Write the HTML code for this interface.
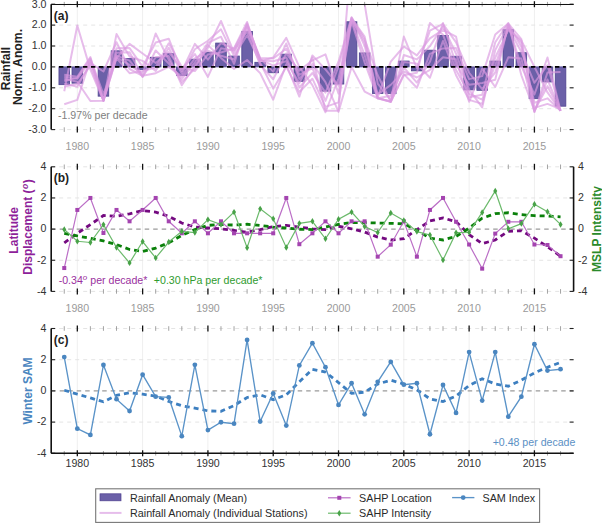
<!DOCTYPE html><html><head><meta charset="utf-8"><style>html,body{margin:0;padding:0;background:#fff;overflow:hidden}svg{display:block}text{font-family:"Liberation Sans",sans-serif}</style></head><body>
<svg width="602" height="523" viewBox="0 0 602 523">
<defs><clipPath id="ca"><rect x="51.2" y="4.2" width="522.4" height="125.4"/></clipPath></defs>
<line x1="77.32" y1="4.2" x2="77.32" y2="129.6" stroke="#efefef" stroke-width="1"/>
<line x1="142.62" y1="4.2" x2="142.62" y2="129.6" stroke="#efefef" stroke-width="1"/>
<line x1="207.92" y1="4.2" x2="207.92" y2="129.6" stroke="#efefef" stroke-width="1"/>
<line x1="273.22" y1="4.2" x2="273.22" y2="129.6" stroke="#efefef" stroke-width="1"/>
<line x1="338.52" y1="4.2" x2="338.52" y2="129.6" stroke="#efefef" stroke-width="1"/>
<line x1="403.82" y1="4.2" x2="403.82" y2="129.6" stroke="#efefef" stroke-width="1"/>
<line x1="469.12" y1="4.2" x2="469.12" y2="129.6" stroke="#efefef" stroke-width="1"/>
<line x1="534.42" y1="4.2" x2="534.42" y2="129.6" stroke="#efefef" stroke-width="1"/>
<line x1="51.2" y1="4.2" x2="573.6" y2="4.2" stroke="#e4e4e4" stroke-width="1" stroke-dasharray="4,4"/>
<line x1="51.2" y1="25.1" x2="573.6" y2="25.1" stroke="#e4e4e4" stroke-width="1" stroke-dasharray="4,4"/>
<line x1="51.2" y1="46" x2="573.6" y2="46" stroke="#e4e4e4" stroke-width="1" stroke-dasharray="4,4"/>
<line x1="51.2" y1="87.8" x2="573.6" y2="87.8" stroke="#e4e4e4" stroke-width="1" stroke-dasharray="4,4"/>
<line x1="51.2" y1="108.7" x2="573.6" y2="108.7" stroke="#e4e4e4" stroke-width="1" stroke-dasharray="4,4"/>
<line x1="51.2" y1="129.6" x2="573.6" y2="129.6" stroke="#e4e4e4" stroke-width="1" stroke-dasharray="4,4"/>
<rect x="58.96" y="66.9" width="10.6" height="17.77" fill="#6b60a8" stroke="#4f4390" stroke-width="0.8"/>
<rect x="72.02" y="66.9" width="10.6" height="16.3" fill="#6b60a8" stroke="#4f4390" stroke-width="0.8"/>
<rect x="98.14" y="66.9" width="10.6" height="29.26" fill="#6b60a8" stroke="#4f4390" stroke-width="0.8"/>
<rect x="111.2" y="50.81" width="10.6" height="16.09" fill="#6b60a8" stroke="#4f4390" stroke-width="0.8"/>
<rect x="124.26" y="58.54" width="10.6" height="8.36" fill="#6b60a8" stroke="#4f4390" stroke-width="0.8"/>
<rect x="137.32" y="66.9" width="10.6" height="2.51" fill="#6b60a8" stroke="#4f4390" stroke-width="0.8"/>
<rect x="150.38" y="57.29" width="10.6" height="9.61" fill="#6b60a8" stroke="#4f4390" stroke-width="0.8"/>
<rect x="163.44" y="53.52" width="10.6" height="13.38" fill="#6b60a8" stroke="#4f4390" stroke-width="0.8"/>
<rect x="176.5" y="66.9" width="10.6" height="8.57" fill="#6b60a8" stroke="#4f4390" stroke-width="0.8"/>
<rect x="189.56" y="59.17" width="10.6" height="7.73" fill="#6b60a8" stroke="#4f4390" stroke-width="0.8"/>
<rect x="202.62" y="52.27" width="10.6" height="14.63" fill="#6b60a8" stroke="#4f4390" stroke-width="0.8"/>
<rect x="215.68" y="43.07" width="10.6" height="23.83" fill="#6b60a8" stroke="#4f4390" stroke-width="0.8"/>
<rect x="228.74" y="56.03" width="10.6" height="10.87" fill="#6b60a8" stroke="#4f4390" stroke-width="0.8"/>
<rect x="241.8" y="31.37" width="10.6" height="35.53" fill="#6b60a8" stroke="#4f4390" stroke-width="0.8"/>
<rect x="254.86" y="62.3" width="10.6" height="4.6" fill="#6b60a8" stroke="#4f4390" stroke-width="0.8"/>
<rect x="267.92" y="66.9" width="10.6" height="5.85" fill="#6b60a8" stroke="#4f4390" stroke-width="0.8"/>
<rect x="280.98" y="54.15" width="10.6" height="12.75" fill="#6b60a8" stroke="#4f4390" stroke-width="0.8"/>
<rect x="294.04" y="66.9" width="10.6" height="14.42" fill="#6b60a8" stroke="#4f4390" stroke-width="0.8"/>
<rect x="307.1" y="66.9" width="10.6" height="0.84" fill="#6b60a8" stroke="#4f4390" stroke-width="0.8"/>
<rect x="320.16" y="66.9" width="10.6" height="24.24" fill="#6b60a8" stroke="#4f4390" stroke-width="0.8"/>
<rect x="333.22" y="66.9" width="10.6" height="17.14" fill="#6b60a8" stroke="#4f4390" stroke-width="0.8"/>
<rect x="346.28" y="21.76" width="10.6" height="45.14" fill="#6b60a8" stroke="#4f4390" stroke-width="0.8"/>
<rect x="359.34" y="52.9" width="10.6" height="14" fill="#6b60a8" stroke="#4f4390" stroke-width="0.8"/>
<rect x="372.4" y="66.9" width="10.6" height="26.54" fill="#6b60a8" stroke="#4f4390" stroke-width="0.8"/>
<rect x="385.46" y="66.9" width="10.6" height="26.75" fill="#6b60a8" stroke="#4f4390" stroke-width="0.8"/>
<rect x="398.52" y="61.05" width="10.6" height="5.85" fill="#6b60a8" stroke="#4f4390" stroke-width="0.8"/>
<rect x="411.58" y="66.9" width="10.6" height="3.97" fill="#6b60a8" stroke="#4f4390" stroke-width="0.8"/>
<rect x="424.64" y="50.18" width="10.6" height="16.72" fill="#6b60a8" stroke="#4f4390" stroke-width="0.8"/>
<rect x="437.7" y="35.55" width="10.6" height="31.35" fill="#6b60a8" stroke="#4f4390" stroke-width="0.8"/>
<rect x="450.76" y="56.24" width="10.6" height="10.66" fill="#6b60a8" stroke="#4f4390" stroke-width="0.8"/>
<rect x="463.82" y="66.9" width="10.6" height="22.99" fill="#6b60a8" stroke="#4f4390" stroke-width="0.8"/>
<rect x="476.88" y="66.9" width="10.6" height="23.41" fill="#6b60a8" stroke="#4f4390" stroke-width="0.8"/>
<rect x="489.94" y="61.05" width="10.6" height="5.85" fill="#6b60a8" stroke="#4f4390" stroke-width="0.8"/>
<rect x="503" y="29.7" width="10.6" height="37.2" fill="#6b60a8" stroke="#4f4390" stroke-width="0.8"/>
<rect x="516.06" y="52.69" width="10.6" height="14.21" fill="#6b60a8" stroke="#4f4390" stroke-width="0.8"/>
<rect x="529.12" y="66.9" width="10.6" height="31.77" fill="#6b60a8" stroke="#4f4390" stroke-width="0.8"/>
<rect x="542.18" y="66.9" width="10.6" height="15.05" fill="#6b60a8" stroke="#4f4390" stroke-width="0.8"/>
<rect x="555.24" y="66.9" width="10.6" height="39.29" fill="#6b60a8" stroke="#4f4390" stroke-width="0.8"/>
<g clip-path="url(#ca)" fill="none" stroke="#da9ae0" stroke-width="2" stroke-opacity="0.65" stroke-linejoin="round">
<polyline points="64.26,91.26 77.32,25.52 90.38,69.6 103.44,100.64 116.5,57.28 129.56,64.81 142.62,73.94 155.68,33.46 168.74,59.88 181.8,82.13 194.86,68.63 207.92,45.11 220.98,57.91 234.04,68.99 247.1,60 260.16,73.17 273.22,99.71 286.28,64.27 299.34,96.58 312.4,55.41 325.46,69.35 338.52,85.68 351.58,19.02 364.64,42.34 377.7,94.4 390.76,84.91 403.82,71.53 416.88,77.5 429.94,69.77 443,57.29 456.06,59.23 469.12,101.8 482.18,68.57 495.24,86.96 508.3,57.29 521.36,58.51 534.42,112.04 547.48,72.54 560.54,71.92"/>
<polyline points="64.26,78.71 77.32,81.75 90.38,100.97 103.44,100.75 116.5,52.75 129.56,52.27 142.62,76.72 155.68,57.29 168.74,56.06 181.8,85.29 194.86,65.71 207.92,47.69 220.98,20.92 234.04,52.75 247.1,26.36 260.16,59.41 273.22,65.56 286.28,61.14 299.34,83.14 312.4,57.5 325.46,110.7 338.52,110.79 351.58,-45.96 364.64,4.2 377.7,83.62 390.76,100.07 403.82,36.59 416.88,68.03 429.94,30.65 443,23.97 456.06,42.39 469.12,72.75 482.18,89.17 495.24,72.42 508.3,26.29 521.36,43.01 534.42,111.85 547.48,79.53 560.54,110.79"/>
<polyline points="64.26,86.87 77.32,83.76 90.38,65.61 103.44,100.76 116.5,48.36 129.56,48.09 142.62,66.59 155.68,42.54 168.74,38.69 181.8,71.26 194.86,43.91 207.92,59.65 220.98,43.04 234.04,48.93 247.1,24.67 260.16,57.91 273.22,58.51 286.28,48.69 299.34,74.78 312.4,68.06 325.46,100.88 338.52,66.51 351.58,18.33 364.64,36.6 377.7,97.07 390.76,61.68 403.82,46.51 416.88,55.41 429.94,38.36 443,29.82 456.06,36.59 469.12,97.23 482.18,94.73 495.24,42.27 508.3,23.01 521.36,75.26 534.42,110.71 547.48,86.16 560.54,110.79"/>
<polyline points="64.26,83.64 77.32,86.68 90.38,63.05 103.44,71.5 116.5,42.22 129.56,68.99 142.62,75.81 155.68,73.17 168.74,66.9 181.8,76.33 194.86,58.42 207.92,50.72 220.98,55.76 234.04,59.44 247.1,28.42 260.16,58.62 273.22,71.59 286.28,43.52 299.34,78.9 312.4,63.82 325.46,82.1 338.52,111.84 351.58,66.9 364.64,91.56 377.7,98.25 390.76,101.8 403.82,74.13 416.88,87.8 429.94,53.94 443,48.45 456.06,48.09 469.12,79.14 482.18,76.1 495.24,34.51 508.3,23.63 521.36,39.1 534.42,107.87 547.48,103.89 560.54,109.01"/>
<polyline points="64.26,104.31 77.32,99.92 90.38,59.55 103.44,99.71 116.5,55.64 129.56,60.63 142.62,76.93 155.68,50.48 168.74,63.5 181.8,79.14 194.86,62.3 207.92,42.83 220.98,36.71 234.04,63.85 247.1,23.23 260.16,60.32 273.22,61.2 286.28,57.5 299.34,87.5 312.4,73.02 325.46,92.61 338.52,61.68 351.58,17.33 364.64,39.3 377.7,75.26 390.76,101.77 403.82,75.26 416.88,72.66 429.94,23.01 443,34.71 456.06,70.01 469.12,93.83 482.18,99.62 495.24,65.02 508.3,27.74 521.36,52.06 534.42,82.77 547.48,65.2 560.54,110.79"/>
<polyline points="64.26,81 77.32,77.73 90.38,58.23 103.44,94.4 116.5,57.99 129.56,43.91 142.62,53.52 155.68,62.96 168.74,52.03 181.8,68.99 194.86,54.06 207.92,76.93 220.98,48.33 234.04,50.48 247.1,31.11 260.16,64.78 273.22,79.29 286.28,53.34 299.34,70.78 312.4,60.3 325.46,54.36 338.52,93.62 351.58,21.58 364.64,62.52 377.7,98.22 390.76,101.8 403.82,54.96 416.88,59.41 429.94,46.12 443,26.23 456.06,53.7 469.12,89.68 482.18,107.45 495.24,49.94 508.3,25.21 521.36,66.24 534.42,94.51 547.48,57.5 560.54,110.79"/>
<polyline points="64.26,74.84 77.32,76.72 90.38,57.08 103.44,100.76 116.5,58.12 129.56,73.17 142.62,70.91 155.68,67.5 168.74,43.34 181.8,66.9 194.86,71.08 207.92,54.45 220.98,52.57 234.04,48.09 247.1,21.97 260.16,61.41 273.22,57.5 286.28,37.85 299.34,66.9 312.4,85.08 325.46,112.25 338.52,78.51 351.58,19.98 364.64,55.11 377.7,97.99 390.76,101.46 403.82,61.94 416.88,63.62 429.94,77.77 443,40.92 456.06,75.26 469.12,99.89 482.18,103.86 495.24,57.52 508.3,30.07 521.36,40.42 534.42,66.9 547.48,92.43 560.54,110.74"/>
<polyline points="64.26,76.68 77.32,78.87 90.38,61.12 103.44,100.76 116.5,34.09 129.56,56.45 142.62,60.83 155.68,70.9 168.74,47.79 181.8,73.71 194.86,49.22 207.92,40.78 220.98,29.34 234.04,55.73 247.1,35.19 260.16,62.79 273.22,88.67 286.28,66.9 299.34,91.98 312.4,78.69 325.46,106.91 338.52,102.34 351.58,17.78 364.64,45.81 377.7,98.25 390.76,95.73 403.82,67.47 416.88,82.55 429.94,61.82 443,23.01 456.06,64.66 469.12,84.78 482.18,82.96 495.24,79.74 508.3,24.35 521.36,46.9 534.42,102.68 547.48,98.34 560.54,110.79"/>
</g>
<line x1="58.96" y1="66.9" x2="565.84" y2="66.9" stroke="#000" stroke-width="1.9" stroke-dasharray="4.4,3.6"/>
<line x1="64.26" y1="1.9" x2="64.26" y2="6.5" stroke="#999" stroke-width="0.9"/>
<line x1="64.26" y1="127.3" x2="64.26" y2="131.9" stroke="#999" stroke-width="0.9"/>
<line x1="77.32" y1="1.2" x2="77.32" y2="7.2" stroke="#111" stroke-width="1.3"/>
<line x1="77.32" y1="126.6" x2="77.32" y2="132.6" stroke="#111" stroke-width="1.3"/>
<line x1="90.38" y1="1.9" x2="90.38" y2="6.5" stroke="#999" stroke-width="0.9"/>
<line x1="90.38" y1="127.3" x2="90.38" y2="131.9" stroke="#999" stroke-width="0.9"/>
<line x1="103.44" y1="1.9" x2="103.44" y2="6.5" stroke="#999" stroke-width="0.9"/>
<line x1="103.44" y1="127.3" x2="103.44" y2="131.9" stroke="#999" stroke-width="0.9"/>
<line x1="116.5" y1="1.9" x2="116.5" y2="6.5" stroke="#999" stroke-width="0.9"/>
<line x1="116.5" y1="127.3" x2="116.5" y2="131.9" stroke="#999" stroke-width="0.9"/>
<line x1="129.56" y1="1.9" x2="129.56" y2="6.5" stroke="#999" stroke-width="0.9"/>
<line x1="129.56" y1="127.3" x2="129.56" y2="131.9" stroke="#999" stroke-width="0.9"/>
<line x1="142.62" y1="1.2" x2="142.62" y2="7.2" stroke="#111" stroke-width="1.3"/>
<line x1="142.62" y1="126.6" x2="142.62" y2="132.6" stroke="#111" stroke-width="1.3"/>
<line x1="155.68" y1="1.9" x2="155.68" y2="6.5" stroke="#999" stroke-width="0.9"/>
<line x1="155.68" y1="127.3" x2="155.68" y2="131.9" stroke="#999" stroke-width="0.9"/>
<line x1="168.74" y1="1.9" x2="168.74" y2="6.5" stroke="#999" stroke-width="0.9"/>
<line x1="168.74" y1="127.3" x2="168.74" y2="131.9" stroke="#999" stroke-width="0.9"/>
<line x1="181.8" y1="1.9" x2="181.8" y2="6.5" stroke="#999" stroke-width="0.9"/>
<line x1="181.8" y1="127.3" x2="181.8" y2="131.9" stroke="#999" stroke-width="0.9"/>
<line x1="194.86" y1="1.9" x2="194.86" y2="6.5" stroke="#999" stroke-width="0.9"/>
<line x1="194.86" y1="127.3" x2="194.86" y2="131.9" stroke="#999" stroke-width="0.9"/>
<line x1="207.92" y1="1.2" x2="207.92" y2="7.2" stroke="#111" stroke-width="1.3"/>
<line x1="207.92" y1="126.6" x2="207.92" y2="132.6" stroke="#111" stroke-width="1.3"/>
<line x1="220.98" y1="1.9" x2="220.98" y2="6.5" stroke="#999" stroke-width="0.9"/>
<line x1="220.98" y1="127.3" x2="220.98" y2="131.9" stroke="#999" stroke-width="0.9"/>
<line x1="234.04" y1="1.9" x2="234.04" y2="6.5" stroke="#999" stroke-width="0.9"/>
<line x1="234.04" y1="127.3" x2="234.04" y2="131.9" stroke="#999" stroke-width="0.9"/>
<line x1="247.1" y1="1.9" x2="247.1" y2="6.5" stroke="#999" stroke-width="0.9"/>
<line x1="247.1" y1="127.3" x2="247.1" y2="131.9" stroke="#999" stroke-width="0.9"/>
<line x1="260.16" y1="1.9" x2="260.16" y2="6.5" stroke="#999" stroke-width="0.9"/>
<line x1="260.16" y1="127.3" x2="260.16" y2="131.9" stroke="#999" stroke-width="0.9"/>
<line x1="273.22" y1="1.2" x2="273.22" y2="7.2" stroke="#111" stroke-width="1.3"/>
<line x1="273.22" y1="126.6" x2="273.22" y2="132.6" stroke="#111" stroke-width="1.3"/>
<line x1="286.28" y1="1.9" x2="286.28" y2="6.5" stroke="#999" stroke-width="0.9"/>
<line x1="286.28" y1="127.3" x2="286.28" y2="131.9" stroke="#999" stroke-width="0.9"/>
<line x1="299.34" y1="1.9" x2="299.34" y2="6.5" stroke="#999" stroke-width="0.9"/>
<line x1="299.34" y1="127.3" x2="299.34" y2="131.9" stroke="#999" stroke-width="0.9"/>
<line x1="312.4" y1="1.9" x2="312.4" y2="6.5" stroke="#999" stroke-width="0.9"/>
<line x1="312.4" y1="127.3" x2="312.4" y2="131.9" stroke="#999" stroke-width="0.9"/>
<line x1="325.46" y1="1.9" x2="325.46" y2="6.5" stroke="#999" stroke-width="0.9"/>
<line x1="325.46" y1="127.3" x2="325.46" y2="131.9" stroke="#999" stroke-width="0.9"/>
<line x1="338.52" y1="1.2" x2="338.52" y2="7.2" stroke="#111" stroke-width="1.3"/>
<line x1="338.52" y1="126.6" x2="338.52" y2="132.6" stroke="#111" stroke-width="1.3"/>
<line x1="351.58" y1="1.9" x2="351.58" y2="6.5" stroke="#999" stroke-width="0.9"/>
<line x1="351.58" y1="127.3" x2="351.58" y2="131.9" stroke="#999" stroke-width="0.9"/>
<line x1="364.64" y1="1.9" x2="364.64" y2="6.5" stroke="#999" stroke-width="0.9"/>
<line x1="364.64" y1="127.3" x2="364.64" y2="131.9" stroke="#999" stroke-width="0.9"/>
<line x1="377.7" y1="1.9" x2="377.7" y2="6.5" stroke="#999" stroke-width="0.9"/>
<line x1="377.7" y1="127.3" x2="377.7" y2="131.9" stroke="#999" stroke-width="0.9"/>
<line x1="390.76" y1="1.9" x2="390.76" y2="6.5" stroke="#999" stroke-width="0.9"/>
<line x1="390.76" y1="127.3" x2="390.76" y2="131.9" stroke="#999" stroke-width="0.9"/>
<line x1="403.82" y1="1.2" x2="403.82" y2="7.2" stroke="#111" stroke-width="1.3"/>
<line x1="403.82" y1="126.6" x2="403.82" y2="132.6" stroke="#111" stroke-width="1.3"/>
<line x1="416.88" y1="1.9" x2="416.88" y2="6.5" stroke="#999" stroke-width="0.9"/>
<line x1="416.88" y1="127.3" x2="416.88" y2="131.9" stroke="#999" stroke-width="0.9"/>
<line x1="429.94" y1="1.9" x2="429.94" y2="6.5" stroke="#999" stroke-width="0.9"/>
<line x1="429.94" y1="127.3" x2="429.94" y2="131.9" stroke="#999" stroke-width="0.9"/>
<line x1="443" y1="1.9" x2="443" y2="6.5" stroke="#999" stroke-width="0.9"/>
<line x1="443" y1="127.3" x2="443" y2="131.9" stroke="#999" stroke-width="0.9"/>
<line x1="456.06" y1="1.9" x2="456.06" y2="6.5" stroke="#999" stroke-width="0.9"/>
<line x1="456.06" y1="127.3" x2="456.06" y2="131.9" stroke="#999" stroke-width="0.9"/>
<line x1="469.12" y1="1.2" x2="469.12" y2="7.2" stroke="#111" stroke-width="1.3"/>
<line x1="469.12" y1="126.6" x2="469.12" y2="132.6" stroke="#111" stroke-width="1.3"/>
<line x1="482.18" y1="1.9" x2="482.18" y2="6.5" stroke="#999" stroke-width="0.9"/>
<line x1="482.18" y1="127.3" x2="482.18" y2="131.9" stroke="#999" stroke-width="0.9"/>
<line x1="495.24" y1="1.9" x2="495.24" y2="6.5" stroke="#999" stroke-width="0.9"/>
<line x1="495.24" y1="127.3" x2="495.24" y2="131.9" stroke="#999" stroke-width="0.9"/>
<line x1="508.3" y1="1.9" x2="508.3" y2="6.5" stroke="#999" stroke-width="0.9"/>
<line x1="508.3" y1="127.3" x2="508.3" y2="131.9" stroke="#999" stroke-width="0.9"/>
<line x1="521.36" y1="1.9" x2="521.36" y2="6.5" stroke="#999" stroke-width="0.9"/>
<line x1="521.36" y1="127.3" x2="521.36" y2="131.9" stroke="#999" stroke-width="0.9"/>
<line x1="534.42" y1="1.2" x2="534.42" y2="7.2" stroke="#111" stroke-width="1.3"/>
<line x1="534.42" y1="126.6" x2="534.42" y2="132.6" stroke="#111" stroke-width="1.3"/>
<line x1="547.48" y1="1.9" x2="547.48" y2="6.5" stroke="#999" stroke-width="0.9"/>
<line x1="547.48" y1="127.3" x2="547.48" y2="131.9" stroke="#999" stroke-width="0.9"/>
<line x1="560.54" y1="1.9" x2="560.54" y2="6.5" stroke="#999" stroke-width="0.9"/>
<line x1="560.54" y1="127.3" x2="560.54" y2="131.9" stroke="#999" stroke-width="0.9"/>
<line x1="51.2" y1="4.2" x2="55.2" y2="4.2" stroke="#222" stroke-width="1.1"/>
<line x1="569.6" y1="4.2" x2="573.6" y2="4.2" stroke="#222" stroke-width="1.1"/>
<line x1="51.2" y1="25.1" x2="55.2" y2="25.1" stroke="#222" stroke-width="1.1"/>
<line x1="569.6" y1="25.1" x2="573.6" y2="25.1" stroke="#222" stroke-width="1.1"/>
<line x1="51.2" y1="46" x2="55.2" y2="46" stroke="#222" stroke-width="1.1"/>
<line x1="569.6" y1="46" x2="573.6" y2="46" stroke="#222" stroke-width="1.1"/>
<line x1="51.2" y1="66.9" x2="55.2" y2="66.9" stroke="#222" stroke-width="1.1"/>
<line x1="569.6" y1="66.9" x2="573.6" y2="66.9" stroke="#222" stroke-width="1.1"/>
<line x1="51.2" y1="87.8" x2="55.2" y2="87.8" stroke="#222" stroke-width="1.1"/>
<line x1="569.6" y1="87.8" x2="573.6" y2="87.8" stroke="#222" stroke-width="1.1"/>
<line x1="51.2" y1="108.7" x2="55.2" y2="108.7" stroke="#222" stroke-width="1.1"/>
<line x1="569.6" y1="108.7" x2="573.6" y2="108.7" stroke="#222" stroke-width="1.1"/>
<line x1="51.2" y1="129.6" x2="55.2" y2="129.6" stroke="#222" stroke-width="1.1"/>
<line x1="569.6" y1="129.6" x2="573.6" y2="129.6" stroke="#222" stroke-width="1.1"/>
<line x1="51.2" y1="4.2" x2="51.2" y2="129.6" stroke="#111" stroke-width="1.6"/>
<line x1="51.2" y1="4.5" x2="573.6" y2="4.5" stroke="#111" stroke-width="1.2"/>
<text x="46.5" y="7.5" font-size="10.6" fill="#333" text-anchor="end">3.0</text>
<text x="46.5" y="28.4" font-size="10.6" fill="#333" text-anchor="end">2.0</text>
<text x="46.5" y="49.3" font-size="10.6" fill="#333" text-anchor="end">1.0</text>
<text x="46.5" y="70.2" font-size="10.6" fill="#333" text-anchor="end">0.0</text>
<text x="46.5" y="91.1" font-size="10.6" fill="#333" text-anchor="end">-1.0</text>
<text x="46.5" y="112" font-size="10.6" fill="#333" text-anchor="end">-2.0</text>
<text x="46.5" y="132.9" font-size="10.6" fill="#333" text-anchor="end">-3.0</text>
<text x="77.32" y="150.2" font-size="10.6" fill="#9a9a9a" text-anchor="middle">1980</text>
<text x="142.62" y="150.2" font-size="10.6" fill="#9a9a9a" text-anchor="middle">1985</text>
<text x="207.92" y="150.2" font-size="10.6" fill="#9a9a9a" text-anchor="middle">1990</text>
<text x="273.22" y="150.2" font-size="10.6" fill="#9a9a9a" text-anchor="middle">1995</text>
<text x="338.52" y="150.2" font-size="10.6" fill="#9a9a9a" text-anchor="middle">2000</text>
<text x="403.82" y="150.2" font-size="10.6" fill="#9a9a9a" text-anchor="middle">2005</text>
<text x="469.12" y="150.2" font-size="10.6" fill="#9a9a9a" text-anchor="middle">2010</text>
<text x="534.42" y="150.2" font-size="10.6" fill="#9a9a9a" text-anchor="middle">2015</text>
<text x="53.8" y="20" font-size="12" font-weight="bold" fill="#222">(a)</text>
<text x="58" y="119.4" font-size="10.6" fill="#808080">-1.97% per decade</text>
<text transform="translate(9.6,68.6) rotate(-90)" font-size="12" font-weight="bold" fill="#222" text-anchor="middle">Rainfall</text>
<text transform="translate(22.2,67) rotate(-90)" font-size="12.2" font-weight="bold" fill="#222" text-anchor="middle">Norm. Anom.</text>
<line x1="77.32" y1="166.8" x2="77.32" y2="291.4" stroke="#efefef" stroke-width="1"/>
<line x1="142.62" y1="166.8" x2="142.62" y2="291.4" stroke="#efefef" stroke-width="1"/>
<line x1="207.92" y1="166.8" x2="207.92" y2="291.4" stroke="#efefef" stroke-width="1"/>
<line x1="273.22" y1="166.8" x2="273.22" y2="291.4" stroke="#efefef" stroke-width="1"/>
<line x1="338.52" y1="166.8" x2="338.52" y2="291.4" stroke="#efefef" stroke-width="1"/>
<line x1="403.82" y1="166.8" x2="403.82" y2="291.4" stroke="#efefef" stroke-width="1"/>
<line x1="469.12" y1="166.8" x2="469.12" y2="291.4" stroke="#efefef" stroke-width="1"/>
<line x1="534.42" y1="166.8" x2="534.42" y2="291.4" stroke="#efefef" stroke-width="1"/>
<line x1="51.2" y1="166.8" x2="573.6" y2="166.8" stroke="#e4e4e4" stroke-width="1" stroke-dasharray="4,4"/>
<line x1="51.2" y1="197.95" x2="573.6" y2="197.95" stroke="#e4e4e4" stroke-width="1" stroke-dasharray="4,4"/>
<line x1="51.2" y1="260.25" x2="573.6" y2="260.25" stroke="#e4e4e4" stroke-width="1" stroke-dasharray="4,4"/>
<line x1="51.2" y1="291.4" x2="573.6" y2="291.4" stroke="#e4e4e4" stroke-width="1" stroke-dasharray="4,4"/>
<line x1="51.2" y1="229.1" x2="573.6" y2="229.1" stroke="#9a9a9a" stroke-width="1.4" stroke-dasharray="4.5,4"/>
<polyline points="64.26,242.81 77.32,233.31 90.38,224.58 103.44,215.55 116.5,216.33 129.56,213.84 142.62,210.57 155.68,212.12 168.74,216.33 181.8,223.03 194.86,227.08 207.92,228.01 220.98,228.79 234.04,230.5 247.1,232.22 260.16,229.57 273.22,226.61 286.28,225.36 299.34,227.08 312.4,228.79 325.46,229.57 338.52,226.3 351.58,228.79 364.64,232.06 377.7,237.04 390.76,240 403.82,238.76 416.88,229.57 429.94,221 443,217.89 456.06,221.78 469.12,234.55 482.18,243.58 495.24,240 508.3,231.28 521.36,230.81 534.42,238.13 547.48,246.7 560.54,256.2" fill="none" stroke="#740a80" stroke-width="2.8" stroke-dasharray="5,4"/>
<polyline points="64.26,233.31 77.32,235.95 90.38,238.29 103.44,240.94 116.5,244.52 129.56,249.5 142.62,251.53 155.68,248.1 168.74,242.81 181.8,235.33 194.86,229.57 207.92,225.36 220.98,224.58 234.04,225.05 247.1,224.27 260.16,225.36 273.22,227.08 286.28,228.01 299.34,229.26 312.4,229.57 325.46,227.08 338.52,224.27 351.58,222.56 364.64,222.56 377.7,223.03 390.76,223.34 403.82,223.8 416.88,230.5 429.94,238.13 443,240 456.06,236.42 469.12,228.17 482.18,218.2 495.24,213.68 508.3,212.75 521.36,214.62 534.42,215.71 547.48,216.02 560.54,216.8" fill="none" stroke="#0a800a" stroke-width="2.8" stroke-dasharray="5,4"/>
<polyline points="64.26,268.04 77.32,209.94 90.38,197.95 103.44,232.99 116.5,209.94 129.56,221.31 142.62,209.94 155.68,197.95 168.74,221.31 181.8,233.31 194.86,221.31 207.92,233.31 220.98,221.31 234.04,233.31 247.1,233.31 260.16,233.31 273.22,233.31 286.28,197.95 299.34,244.21 312.4,233.31 325.46,221.31 338.52,233.31 351.58,221.31 364.64,221.31 377.7,256.67 390.76,244.67 403.82,221.31 416.88,256.67 429.94,209.94 443,197.95 456.06,221.78 469.12,244.52 482.18,268.66 495.24,233.62 508.3,221.78 521.36,221.78 534.42,244.52 547.48,244.99 560.54,256.2" fill="none" stroke="#bb6ec6" stroke-width="1.2"/>
<rect x="62.26" y="266.04" width="4" height="4" fill="#a444b0"/>
<rect x="75.32" y="207.94" width="4" height="4" fill="#a444b0"/>
<rect x="88.38" y="195.95" width="4" height="4" fill="#a444b0"/>
<rect x="101.44" y="230.99" width="4" height="4" fill="#a444b0"/>
<rect x="114.5" y="207.94" width="4" height="4" fill="#a444b0"/>
<rect x="127.56" y="219.31" width="4" height="4" fill="#a444b0"/>
<rect x="140.62" y="207.94" width="4" height="4" fill="#a444b0"/>
<rect x="153.68" y="195.95" width="4" height="4" fill="#a444b0"/>
<rect x="166.74" y="219.31" width="4" height="4" fill="#a444b0"/>
<rect x="179.8" y="231.31" width="4" height="4" fill="#a444b0"/>
<rect x="192.86" y="219.31" width="4" height="4" fill="#a444b0"/>
<rect x="205.92" y="231.31" width="4" height="4" fill="#a444b0"/>
<rect x="218.98" y="219.31" width="4" height="4" fill="#a444b0"/>
<rect x="232.04" y="231.31" width="4" height="4" fill="#a444b0"/>
<rect x="245.1" y="231.31" width="4" height="4" fill="#a444b0"/>
<rect x="258.16" y="231.31" width="4" height="4" fill="#a444b0"/>
<rect x="271.22" y="231.31" width="4" height="4" fill="#a444b0"/>
<rect x="284.28" y="195.95" width="4" height="4" fill="#a444b0"/>
<rect x="297.34" y="242.21" width="4" height="4" fill="#a444b0"/>
<rect x="310.4" y="231.31" width="4" height="4" fill="#a444b0"/>
<rect x="323.46" y="219.31" width="4" height="4" fill="#a444b0"/>
<rect x="336.52" y="231.31" width="4" height="4" fill="#a444b0"/>
<rect x="349.58" y="219.31" width="4" height="4" fill="#a444b0"/>
<rect x="362.64" y="219.31" width="4" height="4" fill="#a444b0"/>
<rect x="375.7" y="254.67" width="4" height="4" fill="#a444b0"/>
<rect x="388.76" y="242.67" width="4" height="4" fill="#a444b0"/>
<rect x="401.82" y="219.31" width="4" height="4" fill="#a444b0"/>
<rect x="414.88" y="254.67" width="4" height="4" fill="#a444b0"/>
<rect x="427.94" y="207.94" width="4" height="4" fill="#a444b0"/>
<rect x="441" y="195.95" width="4" height="4" fill="#a444b0"/>
<rect x="454.06" y="219.78" width="4" height="4" fill="#a444b0"/>
<rect x="467.12" y="242.52" width="4" height="4" fill="#a444b0"/>
<rect x="480.18" y="266.66" width="4" height="4" fill="#a444b0"/>
<rect x="493.24" y="231.62" width="4" height="4" fill="#a444b0"/>
<rect x="506.3" y="219.78" width="4" height="4" fill="#a444b0"/>
<rect x="519.36" y="219.78" width="4" height="4" fill="#a444b0"/>
<rect x="532.42" y="242.52" width="4" height="4" fill="#a444b0"/>
<rect x="545.48" y="242.99" width="4" height="4" fill="#a444b0"/>
<rect x="558.54" y="254.2" width="4" height="4" fill="#a444b0"/>
<polyline points="64.26,229.57 77.32,241.25 90.38,242.49 103.44,224.58 116.5,247.48 129.56,262.9 142.62,241.56 155.68,257.91 168.74,242.03 181.8,231.28 194.86,232.53 207.92,219.6 220.98,224.58 234.04,212.12 247.1,247.79 260.16,208.85 273.22,218.82 286.28,247.48 299.34,223.34 312.4,221.31 325.46,238.76 338.52,219.29 351.58,212.12 364.64,226.61 377.7,232.53 390.76,213.06 403.82,220.38 416.88,231.59 429.94,235.02 443,259.94 456.06,232.68 469.12,232.37 482.18,212.43 495.24,190.94 508.3,228.79 521.36,223.65 534.42,204.18 547.48,211.81 560.54,224.43" fill="none" stroke="#6cba6c" stroke-width="1.2"/>
<polygon points="64.26,226.37 66.26,229.57 64.26,232.77 62.26,229.57" fill="#48a248"/>
<polygon points="77.32,238.05 79.32,241.25 77.32,244.45 75.32,241.25" fill="#48a248"/>
<polygon points="90.38,239.29 92.38,242.49 90.38,245.69 88.38,242.49" fill="#48a248"/>
<polygon points="103.44,221.38 105.44,224.58 103.44,227.78 101.44,224.58" fill="#48a248"/>
<polygon points="116.5,244.28 118.5,247.48 116.5,250.68 114.5,247.48" fill="#48a248"/>
<polygon points="129.56,259.7 131.56,262.9 129.56,266.1 127.56,262.9" fill="#48a248"/>
<polygon points="142.62,238.36 144.62,241.56 142.62,244.76 140.62,241.56" fill="#48a248"/>
<polygon points="155.68,254.71 157.68,257.91 155.68,261.11 153.68,257.91" fill="#48a248"/>
<polygon points="168.74,238.83 170.74,242.03 168.74,245.23 166.74,242.03" fill="#48a248"/>
<polygon points="181.8,228.08 183.8,231.28 181.8,234.48 179.8,231.28" fill="#48a248"/>
<polygon points="194.86,229.33 196.86,232.53 194.86,235.73 192.86,232.53" fill="#48a248"/>
<polygon points="207.92,216.4 209.92,219.6 207.92,222.8 205.92,219.6" fill="#48a248"/>
<polygon points="220.98,221.38 222.98,224.58 220.98,227.78 218.98,224.58" fill="#48a248"/>
<polygon points="234.04,208.92 236.04,212.12 234.04,215.32 232.04,212.12" fill="#48a248"/>
<polygon points="247.1,244.59 249.1,247.79 247.1,250.99 245.1,247.79" fill="#48a248"/>
<polygon points="260.16,205.65 262.16,208.85 260.16,212.05 258.16,208.85" fill="#48a248"/>
<polygon points="273.22,215.62 275.22,218.82 273.22,222.02 271.22,218.82" fill="#48a248"/>
<polygon points="286.28,244.28 288.28,247.48 286.28,250.68 284.28,247.48" fill="#48a248"/>
<polygon points="299.34,220.14 301.34,223.34 299.34,226.54 297.34,223.34" fill="#48a248"/>
<polygon points="312.4,218.11 314.4,221.31 312.4,224.51 310.4,221.31" fill="#48a248"/>
<polygon points="325.46,235.56 327.46,238.76 325.46,241.96 323.46,238.76" fill="#48a248"/>
<polygon points="338.52,216.09 340.52,219.29 338.52,222.49 336.52,219.29" fill="#48a248"/>
<polygon points="351.58,208.92 353.58,212.12 351.58,215.32 349.58,212.12" fill="#48a248"/>
<polygon points="364.64,223.41 366.64,226.61 364.64,229.81 362.64,226.61" fill="#48a248"/>
<polygon points="377.7,229.33 379.7,232.53 377.7,235.73 375.7,232.53" fill="#48a248"/>
<polygon points="390.76,209.86 392.76,213.06 390.76,216.26 388.76,213.06" fill="#48a248"/>
<polygon points="403.82,217.18 405.82,220.38 403.82,223.58 401.82,220.38" fill="#48a248"/>
<polygon points="416.88,228.39 418.88,231.59 416.88,234.79 414.88,231.59" fill="#48a248"/>
<polygon points="429.94,231.82 431.94,235.02 429.94,238.22 427.94,235.02" fill="#48a248"/>
<polygon points="443,256.74 445,259.94 443,263.14 441,259.94" fill="#48a248"/>
<polygon points="456.06,229.48 458.06,232.68 456.06,235.88 454.06,232.68" fill="#48a248"/>
<polygon points="469.12,229.17 471.12,232.37 469.12,235.57 467.12,232.37" fill="#48a248"/>
<polygon points="482.18,209.23 484.18,212.43 482.18,215.63 480.18,212.43" fill="#48a248"/>
<polygon points="495.24,187.74 497.24,190.94 495.24,194.14 493.24,190.94" fill="#48a248"/>
<polygon points="508.3,225.59 510.3,228.79 508.3,231.99 506.3,228.79" fill="#48a248"/>
<polygon points="521.36,220.45 523.36,223.65 521.36,226.85 519.36,223.65" fill="#48a248"/>
<polygon points="534.42,200.98 536.42,204.18 534.42,207.38 532.42,204.18" fill="#48a248"/>
<polygon points="547.48,208.61 549.48,211.81 547.48,215.01 545.48,211.81" fill="#48a248"/>
<polygon points="560.54,221.23 562.54,224.43 560.54,227.63 558.54,224.43" fill="#48a248"/>
<line x1="64.26" y1="164.5" x2="64.26" y2="169.1" stroke="#999" stroke-width="0.9"/>
<line x1="64.26" y1="289.1" x2="64.26" y2="293.7" stroke="#999" stroke-width="0.9"/>
<line x1="77.32" y1="163.8" x2="77.32" y2="169.8" stroke="#111" stroke-width="1.3"/>
<line x1="77.32" y1="288.4" x2="77.32" y2="294.4" stroke="#111" stroke-width="1.3"/>
<line x1="90.38" y1="164.5" x2="90.38" y2="169.1" stroke="#999" stroke-width="0.9"/>
<line x1="90.38" y1="289.1" x2="90.38" y2="293.7" stroke="#999" stroke-width="0.9"/>
<line x1="103.44" y1="164.5" x2="103.44" y2="169.1" stroke="#999" stroke-width="0.9"/>
<line x1="103.44" y1="289.1" x2="103.44" y2="293.7" stroke="#999" stroke-width="0.9"/>
<line x1="116.5" y1="164.5" x2="116.5" y2="169.1" stroke="#999" stroke-width="0.9"/>
<line x1="116.5" y1="289.1" x2="116.5" y2="293.7" stroke="#999" stroke-width="0.9"/>
<line x1="129.56" y1="164.5" x2="129.56" y2="169.1" stroke="#999" stroke-width="0.9"/>
<line x1="129.56" y1="289.1" x2="129.56" y2="293.7" stroke="#999" stroke-width="0.9"/>
<line x1="142.62" y1="163.8" x2="142.62" y2="169.8" stroke="#111" stroke-width="1.3"/>
<line x1="142.62" y1="288.4" x2="142.62" y2="294.4" stroke="#111" stroke-width="1.3"/>
<line x1="155.68" y1="164.5" x2="155.68" y2="169.1" stroke="#999" stroke-width="0.9"/>
<line x1="155.68" y1="289.1" x2="155.68" y2="293.7" stroke="#999" stroke-width="0.9"/>
<line x1="168.74" y1="164.5" x2="168.74" y2="169.1" stroke="#999" stroke-width="0.9"/>
<line x1="168.74" y1="289.1" x2="168.74" y2="293.7" stroke="#999" stroke-width="0.9"/>
<line x1="181.8" y1="164.5" x2="181.8" y2="169.1" stroke="#999" stroke-width="0.9"/>
<line x1="181.8" y1="289.1" x2="181.8" y2="293.7" stroke="#999" stroke-width="0.9"/>
<line x1="194.86" y1="164.5" x2="194.86" y2="169.1" stroke="#999" stroke-width="0.9"/>
<line x1="194.86" y1="289.1" x2="194.86" y2="293.7" stroke="#999" stroke-width="0.9"/>
<line x1="207.92" y1="163.8" x2="207.92" y2="169.8" stroke="#111" stroke-width="1.3"/>
<line x1="207.92" y1="288.4" x2="207.92" y2="294.4" stroke="#111" stroke-width="1.3"/>
<line x1="220.98" y1="164.5" x2="220.98" y2="169.1" stroke="#999" stroke-width="0.9"/>
<line x1="220.98" y1="289.1" x2="220.98" y2="293.7" stroke="#999" stroke-width="0.9"/>
<line x1="234.04" y1="164.5" x2="234.04" y2="169.1" stroke="#999" stroke-width="0.9"/>
<line x1="234.04" y1="289.1" x2="234.04" y2="293.7" stroke="#999" stroke-width="0.9"/>
<line x1="247.1" y1="164.5" x2="247.1" y2="169.1" stroke="#999" stroke-width="0.9"/>
<line x1="247.1" y1="289.1" x2="247.1" y2="293.7" stroke="#999" stroke-width="0.9"/>
<line x1="260.16" y1="164.5" x2="260.16" y2="169.1" stroke="#999" stroke-width="0.9"/>
<line x1="260.16" y1="289.1" x2="260.16" y2="293.7" stroke="#999" stroke-width="0.9"/>
<line x1="273.22" y1="163.8" x2="273.22" y2="169.8" stroke="#111" stroke-width="1.3"/>
<line x1="273.22" y1="288.4" x2="273.22" y2="294.4" stroke="#111" stroke-width="1.3"/>
<line x1="286.28" y1="164.5" x2="286.28" y2="169.1" stroke="#999" stroke-width="0.9"/>
<line x1="286.28" y1="289.1" x2="286.28" y2="293.7" stroke="#999" stroke-width="0.9"/>
<line x1="299.34" y1="164.5" x2="299.34" y2="169.1" stroke="#999" stroke-width="0.9"/>
<line x1="299.34" y1="289.1" x2="299.34" y2="293.7" stroke="#999" stroke-width="0.9"/>
<line x1="312.4" y1="164.5" x2="312.4" y2="169.1" stroke="#999" stroke-width="0.9"/>
<line x1="312.4" y1="289.1" x2="312.4" y2="293.7" stroke="#999" stroke-width="0.9"/>
<line x1="325.46" y1="164.5" x2="325.46" y2="169.1" stroke="#999" stroke-width="0.9"/>
<line x1="325.46" y1="289.1" x2="325.46" y2="293.7" stroke="#999" stroke-width="0.9"/>
<line x1="338.52" y1="163.8" x2="338.52" y2="169.8" stroke="#111" stroke-width="1.3"/>
<line x1="338.52" y1="288.4" x2="338.52" y2="294.4" stroke="#111" stroke-width="1.3"/>
<line x1="351.58" y1="164.5" x2="351.58" y2="169.1" stroke="#999" stroke-width="0.9"/>
<line x1="351.58" y1="289.1" x2="351.58" y2="293.7" stroke="#999" stroke-width="0.9"/>
<line x1="364.64" y1="164.5" x2="364.64" y2="169.1" stroke="#999" stroke-width="0.9"/>
<line x1="364.64" y1="289.1" x2="364.64" y2="293.7" stroke="#999" stroke-width="0.9"/>
<line x1="377.7" y1="164.5" x2="377.7" y2="169.1" stroke="#999" stroke-width="0.9"/>
<line x1="377.7" y1="289.1" x2="377.7" y2="293.7" stroke="#999" stroke-width="0.9"/>
<line x1="390.76" y1="164.5" x2="390.76" y2="169.1" stroke="#999" stroke-width="0.9"/>
<line x1="390.76" y1="289.1" x2="390.76" y2="293.7" stroke="#999" stroke-width="0.9"/>
<line x1="403.82" y1="163.8" x2="403.82" y2="169.8" stroke="#111" stroke-width="1.3"/>
<line x1="403.82" y1="288.4" x2="403.82" y2="294.4" stroke="#111" stroke-width="1.3"/>
<line x1="416.88" y1="164.5" x2="416.88" y2="169.1" stroke="#999" stroke-width="0.9"/>
<line x1="416.88" y1="289.1" x2="416.88" y2="293.7" stroke="#999" stroke-width="0.9"/>
<line x1="429.94" y1="164.5" x2="429.94" y2="169.1" stroke="#999" stroke-width="0.9"/>
<line x1="429.94" y1="289.1" x2="429.94" y2="293.7" stroke="#999" stroke-width="0.9"/>
<line x1="443" y1="164.5" x2="443" y2="169.1" stroke="#999" stroke-width="0.9"/>
<line x1="443" y1="289.1" x2="443" y2="293.7" stroke="#999" stroke-width="0.9"/>
<line x1="456.06" y1="164.5" x2="456.06" y2="169.1" stroke="#999" stroke-width="0.9"/>
<line x1="456.06" y1="289.1" x2="456.06" y2="293.7" stroke="#999" stroke-width="0.9"/>
<line x1="469.12" y1="163.8" x2="469.12" y2="169.8" stroke="#111" stroke-width="1.3"/>
<line x1="469.12" y1="288.4" x2="469.12" y2="294.4" stroke="#111" stroke-width="1.3"/>
<line x1="482.18" y1="164.5" x2="482.18" y2="169.1" stroke="#999" stroke-width="0.9"/>
<line x1="482.18" y1="289.1" x2="482.18" y2="293.7" stroke="#999" stroke-width="0.9"/>
<line x1="495.24" y1="164.5" x2="495.24" y2="169.1" stroke="#999" stroke-width="0.9"/>
<line x1="495.24" y1="289.1" x2="495.24" y2="293.7" stroke="#999" stroke-width="0.9"/>
<line x1="508.3" y1="164.5" x2="508.3" y2="169.1" stroke="#999" stroke-width="0.9"/>
<line x1="508.3" y1="289.1" x2="508.3" y2="293.7" stroke="#999" stroke-width="0.9"/>
<line x1="521.36" y1="164.5" x2="521.36" y2="169.1" stroke="#999" stroke-width="0.9"/>
<line x1="521.36" y1="289.1" x2="521.36" y2="293.7" stroke="#999" stroke-width="0.9"/>
<line x1="534.42" y1="163.8" x2="534.42" y2="169.8" stroke="#111" stroke-width="1.3"/>
<line x1="534.42" y1="288.4" x2="534.42" y2="294.4" stroke="#111" stroke-width="1.3"/>
<line x1="547.48" y1="164.5" x2="547.48" y2="169.1" stroke="#999" stroke-width="0.9"/>
<line x1="547.48" y1="289.1" x2="547.48" y2="293.7" stroke="#999" stroke-width="0.9"/>
<line x1="560.54" y1="164.5" x2="560.54" y2="169.1" stroke="#999" stroke-width="0.9"/>
<line x1="560.54" y1="289.1" x2="560.54" y2="293.7" stroke="#999" stroke-width="0.9"/>
<line x1="51.2" y1="166.8" x2="55.2" y2="166.8" stroke="#222" stroke-width="1.1"/>
<line x1="569.6" y1="166.8" x2="573.6" y2="166.8" stroke="#222" stroke-width="1.1"/>
<line x1="51.2" y1="197.95" x2="55.2" y2="197.95" stroke="#222" stroke-width="1.1"/>
<line x1="569.6" y1="197.95" x2="573.6" y2="197.95" stroke="#222" stroke-width="1.1"/>
<line x1="51.2" y1="229.1" x2="55.2" y2="229.1" stroke="#222" stroke-width="1.1"/>
<line x1="569.6" y1="229.1" x2="573.6" y2="229.1" stroke="#222" stroke-width="1.1"/>
<line x1="51.2" y1="260.25" x2="55.2" y2="260.25" stroke="#222" stroke-width="1.1"/>
<line x1="569.6" y1="260.25" x2="573.6" y2="260.25" stroke="#222" stroke-width="1.1"/>
<line x1="51.2" y1="291.4" x2="55.2" y2="291.4" stroke="#222" stroke-width="1.1"/>
<line x1="569.6" y1="291.4" x2="573.6" y2="291.4" stroke="#222" stroke-width="1.1"/>
<line x1="51.2" y1="166.8" x2="51.2" y2="291.4" stroke="#111" stroke-width="1.6"/>
<line x1="573.6" y1="166.8" x2="573.6" y2="291.4" stroke="#111" stroke-width="1.6"/>
<text x="46.5" y="170.1" font-size="10.6" fill="#333" text-anchor="end">4</text>
<text x="46.5" y="201.25" font-size="10.6" fill="#333" text-anchor="end">2</text>
<text x="46.5" y="232.4" font-size="10.6" fill="#333" text-anchor="end">0</text>
<text x="46.5" y="263.55" font-size="10.6" fill="#333" text-anchor="end">-2</text>
<text x="46.5" y="294.7" font-size="10.6" fill="#333" text-anchor="end">-4</text>
<text x="578" y="170.1" font-size="10.6" fill="#333">4</text>
<text x="578" y="201.25" font-size="10.6" fill="#333">2</text>
<text x="578" y="232.4" font-size="10.6" fill="#333">0</text>
<text x="578" y="263.55" font-size="10.6" fill="#333">-2</text>
<text x="578" y="294.7" font-size="10.6" fill="#333">-4</text>
<text x="77.32" y="312" font-size="10.6" fill="#9a9a9a" text-anchor="middle">1980</text>
<text x="142.62" y="312" font-size="10.6" fill="#9a9a9a" text-anchor="middle">1985</text>
<text x="207.92" y="312" font-size="10.6" fill="#9a9a9a" text-anchor="middle">1990</text>
<text x="273.22" y="312" font-size="10.6" fill="#9a9a9a" text-anchor="middle">1995</text>
<text x="338.52" y="312" font-size="10.6" fill="#9a9a9a" text-anchor="middle">2000</text>
<text x="403.82" y="312" font-size="10.6" fill="#9a9a9a" text-anchor="middle">2005</text>
<text x="469.12" y="312" font-size="10.6" fill="#9a9a9a" text-anchor="middle">2010</text>
<text x="534.42" y="312" font-size="10.6" fill="#9a9a9a" text-anchor="middle">2015</text>
<text x="53.8" y="182.4" font-size="12" font-weight="bold" fill="#222">(b)</text>
<text x="58.7" y="283.8" font-size="10.6" fill="#9a2fa0">-0.34<tspan font-style="italic" font-size="8" dy="-4">o</tspan><tspan dy="4"> per decade*</tspan></text>
<text x="153.8" y="283.8" font-size="10.6" fill="#2e9b2e">+0.30 hPa per decade*</text>
<text transform="translate(18.4,230.3) rotate(-90)" font-size="12" font-weight="bold" fill="#8e1f9a" text-anchor="middle">Latitude</text>
<text transform="translate(32,227) rotate(-90)" font-size="12" font-weight="bold" fill="#8e1f9a" text-anchor="middle">Displacement (<tspan font-style="italic" font-size="8.5" dx="0.5" dy="-4.5">o</tspan><tspan dy="4.5" dx="0.5">)</tspan></text>
<text transform="translate(601,229) rotate(-90)" font-size="12" font-weight="bold" fill="#2a8a2a" text-anchor="middle">MSLP Intensity</text>
<line x1="77.32" y1="328.5" x2="77.32" y2="453.3" stroke="#efefef" stroke-width="1"/>
<line x1="142.62" y1="328.5" x2="142.62" y2="453.3" stroke="#efefef" stroke-width="1"/>
<line x1="207.92" y1="328.5" x2="207.92" y2="453.3" stroke="#efefef" stroke-width="1"/>
<line x1="273.22" y1="328.5" x2="273.22" y2="453.3" stroke="#efefef" stroke-width="1"/>
<line x1="338.52" y1="328.5" x2="338.52" y2="453.3" stroke="#efefef" stroke-width="1"/>
<line x1="403.82" y1="328.5" x2="403.82" y2="453.3" stroke="#efefef" stroke-width="1"/>
<line x1="469.12" y1="328.5" x2="469.12" y2="453.3" stroke="#efefef" stroke-width="1"/>
<line x1="534.42" y1="328.5" x2="534.42" y2="453.3" stroke="#efefef" stroke-width="1"/>
<line x1="51.2" y1="328.5" x2="573.6" y2="328.5" stroke="#e4e4e4" stroke-width="1" stroke-dasharray="4,4"/>
<line x1="51.2" y1="359.7" x2="573.6" y2="359.7" stroke="#e4e4e4" stroke-width="1" stroke-dasharray="4,4"/>
<line x1="51.2" y1="422.1" x2="573.6" y2="422.1" stroke="#e4e4e4" stroke-width="1" stroke-dasharray="4,4"/>
<line x1="51.2" y1="453.3" x2="573.6" y2="453.3" stroke="#e4e4e4" stroke-width="1" stroke-dasharray="4,4"/>
<line x1="51.2" y1="390.9" x2="573.6" y2="390.9" stroke="#9a9a9a" stroke-width="1.4" stroke-dasharray="4.5,4"/>
<polyline points="64.26,390.28 77.32,394.18 90.38,397.92 103.44,401.82 116.5,395.27 129.56,392.77 142.62,394.18 155.68,396.05 168.74,401.51 181.8,405.72 194.86,408.06 207.92,410.87 220.98,411.34 234.04,405.56 247.1,397.45 260.16,394.8 273.22,399.64 286.28,394.8 299.34,381.85 312.4,369.37 325.46,372.02 338.52,382.63 351.58,393.4 364.64,392.15 377.7,384.04 390.76,380.14 403.82,384.04 416.88,389.96 429.94,398.86 443,401.51 456.06,396.05 469.12,385.44 482.18,378.73 495.24,384.04 508.3,386.22 521.36,380.14 534.42,372.96 547.48,367.19 560.54,362.35" fill="none" stroke="#3d7fc0" stroke-width="2.8" stroke-dasharray="5,4"/>
<polyline points="64.26,357.05 77.32,428.65 90.38,434.89 103.44,365 116.5,399.17 129.56,411.02 142.62,374.68 155.68,396.67 168.74,397.45 181.8,436.14 194.86,364.85 207.92,430.06 220.98,422.26 234.04,423.66 247.1,339.89 260.16,421.48 273.22,393.4 286.28,425.53 299.34,365.47 312.4,343.16 325.46,367.19 338.52,404.94 351.58,383.26 364.64,414.3 377.7,381.85 390.76,361.88 403.82,384.66 416.88,383.26 429.94,434.27 443,384.97 456.06,412.9 469.12,352.06 482.18,400.57 495.24,352.06 508.3,416.64 521.36,396.67 534.42,344.26 547.48,370.62 560.54,369.22" fill="none" stroke="#5a93c8" stroke-width="1.35"/>
<circle cx="64.26" cy="357.05" r="2.4" fill="#4a86c0"/>
<circle cx="77.32" cy="428.65" r="2.4" fill="#4a86c0"/>
<circle cx="90.38" cy="434.89" r="2.4" fill="#4a86c0"/>
<circle cx="103.44" cy="365" r="2.4" fill="#4a86c0"/>
<circle cx="116.5" cy="399.17" r="2.4" fill="#4a86c0"/>
<circle cx="129.56" cy="411.02" r="2.4" fill="#4a86c0"/>
<circle cx="142.62" cy="374.68" r="2.4" fill="#4a86c0"/>
<circle cx="155.68" cy="396.67" r="2.4" fill="#4a86c0"/>
<circle cx="168.74" cy="397.45" r="2.4" fill="#4a86c0"/>
<circle cx="181.8" cy="436.14" r="2.4" fill="#4a86c0"/>
<circle cx="194.86" cy="364.85" r="2.4" fill="#4a86c0"/>
<circle cx="207.92" cy="430.06" r="2.4" fill="#4a86c0"/>
<circle cx="220.98" cy="422.26" r="2.4" fill="#4a86c0"/>
<circle cx="234.04" cy="423.66" r="2.4" fill="#4a86c0"/>
<circle cx="247.1" cy="339.89" r="2.4" fill="#4a86c0"/>
<circle cx="260.16" cy="421.48" r="2.4" fill="#4a86c0"/>
<circle cx="273.22" cy="393.4" r="2.4" fill="#4a86c0"/>
<circle cx="286.28" cy="425.53" r="2.4" fill="#4a86c0"/>
<circle cx="299.34" cy="365.47" r="2.4" fill="#4a86c0"/>
<circle cx="312.4" cy="343.16" r="2.4" fill="#4a86c0"/>
<circle cx="325.46" cy="367.19" r="2.4" fill="#4a86c0"/>
<circle cx="338.52" cy="404.94" r="2.4" fill="#4a86c0"/>
<circle cx="351.58" cy="383.26" r="2.4" fill="#4a86c0"/>
<circle cx="364.64" cy="414.3" r="2.4" fill="#4a86c0"/>
<circle cx="377.7" cy="381.85" r="2.4" fill="#4a86c0"/>
<circle cx="390.76" cy="361.88" r="2.4" fill="#4a86c0"/>
<circle cx="403.82" cy="384.66" r="2.4" fill="#4a86c0"/>
<circle cx="416.88" cy="383.26" r="2.4" fill="#4a86c0"/>
<circle cx="429.94" cy="434.27" r="2.4" fill="#4a86c0"/>
<circle cx="443" cy="384.97" r="2.4" fill="#4a86c0"/>
<circle cx="456.06" cy="412.9" r="2.4" fill="#4a86c0"/>
<circle cx="469.12" cy="352.06" r="2.4" fill="#4a86c0"/>
<circle cx="482.18" cy="400.57" r="2.4" fill="#4a86c0"/>
<circle cx="495.24" cy="352.06" r="2.4" fill="#4a86c0"/>
<circle cx="508.3" cy="416.64" r="2.4" fill="#4a86c0"/>
<circle cx="521.36" cy="396.67" r="2.4" fill="#4a86c0"/>
<circle cx="534.42" cy="344.26" r="2.4" fill="#4a86c0"/>
<circle cx="547.48" cy="370.62" r="2.4" fill="#4a86c0"/>
<circle cx="560.54" cy="369.22" r="2.4" fill="#4a86c0"/>
<line x1="64.26" y1="326.2" x2="64.26" y2="330.8" stroke="#999" stroke-width="0.9"/>
<line x1="64.26" y1="451" x2="64.26" y2="455.6" stroke="#999" stroke-width="0.9"/>
<line x1="77.32" y1="325.5" x2="77.32" y2="331.5" stroke="#111" stroke-width="1.3"/>
<line x1="77.32" y1="450.3" x2="77.32" y2="456.3" stroke="#111" stroke-width="1.3"/>
<line x1="90.38" y1="326.2" x2="90.38" y2="330.8" stroke="#999" stroke-width="0.9"/>
<line x1="90.38" y1="451" x2="90.38" y2="455.6" stroke="#999" stroke-width="0.9"/>
<line x1="103.44" y1="326.2" x2="103.44" y2="330.8" stroke="#999" stroke-width="0.9"/>
<line x1="103.44" y1="451" x2="103.44" y2="455.6" stroke="#999" stroke-width="0.9"/>
<line x1="116.5" y1="326.2" x2="116.5" y2="330.8" stroke="#999" stroke-width="0.9"/>
<line x1="116.5" y1="451" x2="116.5" y2="455.6" stroke="#999" stroke-width="0.9"/>
<line x1="129.56" y1="326.2" x2="129.56" y2="330.8" stroke="#999" stroke-width="0.9"/>
<line x1="129.56" y1="451" x2="129.56" y2="455.6" stroke="#999" stroke-width="0.9"/>
<line x1="142.62" y1="325.5" x2="142.62" y2="331.5" stroke="#111" stroke-width="1.3"/>
<line x1="142.62" y1="450.3" x2="142.62" y2="456.3" stroke="#111" stroke-width="1.3"/>
<line x1="155.68" y1="326.2" x2="155.68" y2="330.8" stroke="#999" stroke-width="0.9"/>
<line x1="155.68" y1="451" x2="155.68" y2="455.6" stroke="#999" stroke-width="0.9"/>
<line x1="168.74" y1="326.2" x2="168.74" y2="330.8" stroke="#999" stroke-width="0.9"/>
<line x1="168.74" y1="451" x2="168.74" y2="455.6" stroke="#999" stroke-width="0.9"/>
<line x1="181.8" y1="326.2" x2="181.8" y2="330.8" stroke="#999" stroke-width="0.9"/>
<line x1="181.8" y1="451" x2="181.8" y2="455.6" stroke="#999" stroke-width="0.9"/>
<line x1="194.86" y1="326.2" x2="194.86" y2="330.8" stroke="#999" stroke-width="0.9"/>
<line x1="194.86" y1="451" x2="194.86" y2="455.6" stroke="#999" stroke-width="0.9"/>
<line x1="207.92" y1="325.5" x2="207.92" y2="331.5" stroke="#111" stroke-width="1.3"/>
<line x1="207.92" y1="450.3" x2="207.92" y2="456.3" stroke="#111" stroke-width="1.3"/>
<line x1="220.98" y1="326.2" x2="220.98" y2="330.8" stroke="#999" stroke-width="0.9"/>
<line x1="220.98" y1="451" x2="220.98" y2="455.6" stroke="#999" stroke-width="0.9"/>
<line x1="234.04" y1="326.2" x2="234.04" y2="330.8" stroke="#999" stroke-width="0.9"/>
<line x1="234.04" y1="451" x2="234.04" y2="455.6" stroke="#999" stroke-width="0.9"/>
<line x1="247.1" y1="326.2" x2="247.1" y2="330.8" stroke="#999" stroke-width="0.9"/>
<line x1="247.1" y1="451" x2="247.1" y2="455.6" stroke="#999" stroke-width="0.9"/>
<line x1="260.16" y1="326.2" x2="260.16" y2="330.8" stroke="#999" stroke-width="0.9"/>
<line x1="260.16" y1="451" x2="260.16" y2="455.6" stroke="#999" stroke-width="0.9"/>
<line x1="273.22" y1="325.5" x2="273.22" y2="331.5" stroke="#111" stroke-width="1.3"/>
<line x1="273.22" y1="450.3" x2="273.22" y2="456.3" stroke="#111" stroke-width="1.3"/>
<line x1="286.28" y1="326.2" x2="286.28" y2="330.8" stroke="#999" stroke-width="0.9"/>
<line x1="286.28" y1="451" x2="286.28" y2="455.6" stroke="#999" stroke-width="0.9"/>
<line x1="299.34" y1="326.2" x2="299.34" y2="330.8" stroke="#999" stroke-width="0.9"/>
<line x1="299.34" y1="451" x2="299.34" y2="455.6" stroke="#999" stroke-width="0.9"/>
<line x1="312.4" y1="326.2" x2="312.4" y2="330.8" stroke="#999" stroke-width="0.9"/>
<line x1="312.4" y1="451" x2="312.4" y2="455.6" stroke="#999" stroke-width="0.9"/>
<line x1="325.46" y1="326.2" x2="325.46" y2="330.8" stroke="#999" stroke-width="0.9"/>
<line x1="325.46" y1="451" x2="325.46" y2="455.6" stroke="#999" stroke-width="0.9"/>
<line x1="338.52" y1="325.5" x2="338.52" y2="331.5" stroke="#111" stroke-width="1.3"/>
<line x1="338.52" y1="450.3" x2="338.52" y2="456.3" stroke="#111" stroke-width="1.3"/>
<line x1="351.58" y1="326.2" x2="351.58" y2="330.8" stroke="#999" stroke-width="0.9"/>
<line x1="351.58" y1="451" x2="351.58" y2="455.6" stroke="#999" stroke-width="0.9"/>
<line x1="364.64" y1="326.2" x2="364.64" y2="330.8" stroke="#999" stroke-width="0.9"/>
<line x1="364.64" y1="451" x2="364.64" y2="455.6" stroke="#999" stroke-width="0.9"/>
<line x1="377.7" y1="326.2" x2="377.7" y2="330.8" stroke="#999" stroke-width="0.9"/>
<line x1="377.7" y1="451" x2="377.7" y2="455.6" stroke="#999" stroke-width="0.9"/>
<line x1="390.76" y1="326.2" x2="390.76" y2="330.8" stroke="#999" stroke-width="0.9"/>
<line x1="390.76" y1="451" x2="390.76" y2="455.6" stroke="#999" stroke-width="0.9"/>
<line x1="403.82" y1="325.5" x2="403.82" y2="331.5" stroke="#111" stroke-width="1.3"/>
<line x1="403.82" y1="450.3" x2="403.82" y2="456.3" stroke="#111" stroke-width="1.3"/>
<line x1="416.88" y1="326.2" x2="416.88" y2="330.8" stroke="#999" stroke-width="0.9"/>
<line x1="416.88" y1="451" x2="416.88" y2="455.6" stroke="#999" stroke-width="0.9"/>
<line x1="429.94" y1="326.2" x2="429.94" y2="330.8" stroke="#999" stroke-width="0.9"/>
<line x1="429.94" y1="451" x2="429.94" y2="455.6" stroke="#999" stroke-width="0.9"/>
<line x1="443" y1="326.2" x2="443" y2="330.8" stroke="#999" stroke-width="0.9"/>
<line x1="443" y1="451" x2="443" y2="455.6" stroke="#999" stroke-width="0.9"/>
<line x1="456.06" y1="326.2" x2="456.06" y2="330.8" stroke="#999" stroke-width="0.9"/>
<line x1="456.06" y1="451" x2="456.06" y2="455.6" stroke="#999" stroke-width="0.9"/>
<line x1="469.12" y1="325.5" x2="469.12" y2="331.5" stroke="#111" stroke-width="1.3"/>
<line x1="469.12" y1="450.3" x2="469.12" y2="456.3" stroke="#111" stroke-width="1.3"/>
<line x1="482.18" y1="326.2" x2="482.18" y2="330.8" stroke="#999" stroke-width="0.9"/>
<line x1="482.18" y1="451" x2="482.18" y2="455.6" stroke="#999" stroke-width="0.9"/>
<line x1="495.24" y1="326.2" x2="495.24" y2="330.8" stroke="#999" stroke-width="0.9"/>
<line x1="495.24" y1="451" x2="495.24" y2="455.6" stroke="#999" stroke-width="0.9"/>
<line x1="508.3" y1="326.2" x2="508.3" y2="330.8" stroke="#999" stroke-width="0.9"/>
<line x1="508.3" y1="451" x2="508.3" y2="455.6" stroke="#999" stroke-width="0.9"/>
<line x1="521.36" y1="326.2" x2="521.36" y2="330.8" stroke="#999" stroke-width="0.9"/>
<line x1="521.36" y1="451" x2="521.36" y2="455.6" stroke="#999" stroke-width="0.9"/>
<line x1="534.42" y1="325.5" x2="534.42" y2="331.5" stroke="#111" stroke-width="1.3"/>
<line x1="534.42" y1="450.3" x2="534.42" y2="456.3" stroke="#111" stroke-width="1.3"/>
<line x1="547.48" y1="326.2" x2="547.48" y2="330.8" stroke="#999" stroke-width="0.9"/>
<line x1="547.48" y1="451" x2="547.48" y2="455.6" stroke="#999" stroke-width="0.9"/>
<line x1="560.54" y1="326.2" x2="560.54" y2="330.8" stroke="#999" stroke-width="0.9"/>
<line x1="560.54" y1="451" x2="560.54" y2="455.6" stroke="#999" stroke-width="0.9"/>
<line x1="51.2" y1="328.5" x2="55.2" y2="328.5" stroke="#222" stroke-width="1.1"/>
<line x1="569.6" y1="328.5" x2="573.6" y2="328.5" stroke="#222" stroke-width="1.1"/>
<line x1="51.2" y1="359.7" x2="55.2" y2="359.7" stroke="#222" stroke-width="1.1"/>
<line x1="569.6" y1="359.7" x2="573.6" y2="359.7" stroke="#222" stroke-width="1.1"/>
<line x1="51.2" y1="390.9" x2="55.2" y2="390.9" stroke="#222" stroke-width="1.1"/>
<line x1="569.6" y1="390.9" x2="573.6" y2="390.9" stroke="#222" stroke-width="1.1"/>
<line x1="51.2" y1="422.1" x2="55.2" y2="422.1" stroke="#222" stroke-width="1.1"/>
<line x1="569.6" y1="422.1" x2="573.6" y2="422.1" stroke="#222" stroke-width="1.1"/>
<line x1="51.2" y1="453.3" x2="55.2" y2="453.3" stroke="#222" stroke-width="1.1"/>
<line x1="569.6" y1="453.3" x2="573.6" y2="453.3" stroke="#222" stroke-width="1.1"/>
<line x1="51.2" y1="328.5" x2="51.2" y2="453.3" stroke="#111" stroke-width="1.6"/>
<line x1="51.2" y1="453.3" x2="573.6" y2="453.3" stroke="#111" stroke-width="1.6"/>
<text x="46.5" y="331.8" font-size="10.6" fill="#333" text-anchor="end">4</text>
<text x="46.5" y="363" font-size="10.6" fill="#333" text-anchor="end">2</text>
<text x="46.5" y="394.2" font-size="10.6" fill="#333" text-anchor="end">0</text>
<text x="46.5" y="425.4" font-size="10.6" fill="#333" text-anchor="end">-2</text>
<text x="46.5" y="456.6" font-size="10.6" fill="#333" text-anchor="end">-4</text>
<text x="77.32" y="467" font-size="10.6" fill="#333" text-anchor="middle">1980</text>
<text x="142.62" y="467" font-size="10.6" fill="#333" text-anchor="middle">1985</text>
<text x="207.92" y="467" font-size="10.6" fill="#333" text-anchor="middle">1990</text>
<text x="273.22" y="467" font-size="10.6" fill="#333" text-anchor="middle">1995</text>
<text x="338.52" y="467" font-size="10.6" fill="#333" text-anchor="middle">2000</text>
<text x="403.82" y="467" font-size="10.6" fill="#333" text-anchor="middle">2005</text>
<text x="469.12" y="467" font-size="10.6" fill="#333" text-anchor="middle">2010</text>
<text x="534.42" y="467" font-size="10.6" fill="#333" text-anchor="middle">2015</text>
<text x="53.8" y="344.3" font-size="12" font-weight="bold" fill="#222">(c)</text>
<text x="575.4" y="446.4" font-size="10.6" fill="#5b90c4" text-anchor="end">+0.48 per decade</text>
<text transform="translate(32,391) rotate(-90)" font-size="12" font-weight="bold" fill="#4a86c0" text-anchor="middle">Winter SAM</text>
<rect x="95.7" y="488.8" width="443.9" height="33.6" fill="#fff" stroke="#777" stroke-width="1.1"/>
<rect x="100" y="493.8" width="21" height="7" fill="#6b60a8" stroke="#4d3f8f" stroke-width="0.7"/>
<line x1="99.5" y1="512.9" x2="121.5" y2="512.9" stroke="#e6bdeb" stroke-width="2"/>
<text x="130" y="501.6" font-size="10.75" fill="#2a2a2a">Rainfall Anomaly (Mean)</text>
<text x="130" y="517" font-size="10.75" fill="#2a2a2a">Rainfall Anomaly (Individual Stations)</text>
<line x1="328" y1="497.8" x2="350.6" y2="497.8" stroke="#bb6ec6" stroke-width="1.2"/>
<rect x="337.3" y="495.8" width="4" height="4" fill="#a444b0"/>
<line x1="328" y1="513.2" x2="350.6" y2="513.2" stroke="#6cba6c" stroke-width="1.2"/>
<polygon points="339.3,510 341.3,513.2 339.3,516.4 337.3,513.2" fill="#48a248"/>
<text x="359.1" y="501.6" font-size="10.75" fill="#2a2a2a">SAHP Location</text>
<text x="359.1" y="517" font-size="10.75" fill="#2a2a2a">SAHP Intensity</text>
<line x1="452.1" y1="497.6" x2="474.4" y2="497.6" stroke="#5a93c8" stroke-width="1.35"/>
<circle cx="463.2" cy="497.6" r="2.4" fill="#4a86c0"/>
<text x="482.5" y="501.6" font-size="10.75" fill="#2a2a2a">SAM Index</text>
</svg></body></html>
